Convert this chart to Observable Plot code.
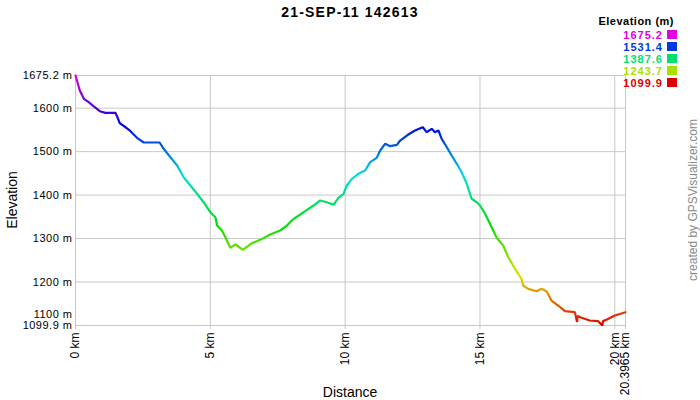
<!DOCTYPE html>
<html><head><meta charset="utf-8">
<script src="https://cdn.jsdelivr.net/npm/d3@7"></script>
<script src="https://cdn.jsdelivr.net/npm/@observablehq/plot@0.6"></script>
<style>
body{margin:0;background:#fff;}
svg{font-family:"Liberation Sans",Arial,sans-serif;}
</style>
</head><body><div id="chart"></div>
<script>
const chartTitle = "21-SEP-11 142613";
const distanceKm = [0,0.16,0.31,0.49,0.68,0.9,1.11,1.48,1.55,1.64,1.85,2.04,2.28,2.53,3.12,3.27,3.52,3.77,4.01,4.26,4.51,4.75,5.0,5.19,5.25,5.43,5.56,5.74,5.93,6.21,6.54,6.85,7.22,7.59,7.84,8.09,8.46,8.83,9.07,9.32,9.57,9.75,9.94,10.06,10.25,10.49,10.74,10.93,11.17,11.3,11.48,11.67,11.92,12.04,12.34,12.59,12.88,13.02,13.21,13.33,13.46,13.58,13.77,13.95,14.14,14.32,14.51,14.69,14.88,15.0,15.19,15.37,15.62,15.86,16.05,16.3,16.54,16.6,16.79,17.1,17.28,17.47,17.65,17.9,18.15,18.52,18.6,18.62,18.77,19.07,19.38,19.54,19.56,19.69,20.0,20.3965];
const elevationM = [1675.2,1640.7,1621.5,1613.8,1603.9,1593,1589.3,1589.3,1580,1565.5,1556.2,1547,1531.8,1521,1521,1506.5,1487.2,1468.1,1441.2,1422.1,1403,1383.6,1360.6,1349.1,1330,1318.5,1303,1278.7,1286.3,1274,1289.3,1297,1309.3,1318.5,1330,1345.4,1360.6,1376,1387.6,1383.6,1377.7,1393.8,1403,1422.1,1437.4,1449,1456.6,1475.7,1485.8,1502.6,1518,1512.5,1515.7,1525.6,1539.4,1548.6,1556.2,1544.7,1552.5,1544.7,1548.6,1529.5,1510.2,1491.1,1472,1452.7,1426,1391.5,1383.6,1376,1357,1334,1301.7,1284,1257.1,1230.4,1207.3,1191.9,1184.3,1178.8,1184.3,1178.8,1157.4,1145.9,1132.8,1130.5,1108,1122,1117.6,1111.4,1109.8,1099.9,1110,1113,1122.9,1130.5];
const yTicks = [1675.2,1600,1500,1400,1300,1200];
const yTicksLow = [1100];
const yTicksMin = [1099.9];
const xTicks = [0,5,10,15,20,20.3965];
const legendTitle = "Elevation (m)";
const legendValues = [1675.2,1531.4,1387.6,1243.7,1099.9];
const xLabel = "Distance";
const yLabel = "Elevation";
const credit = "created by GPSVisualizer.com";

const minE = 1099.9, maxE = 1675.2;
const hueColor = t => d3.hsl(300 * t, 1, 0.44).formatHex();
const colorOf = v => hueColor((v - minE) / (maxE - minE));
const points = distanceKm.map((d, i) => ({d, e: elevationM[i]}));
const gridColor = "#c8c8c8";

const gradientDefs = (index, scales) => {
  const defs = d3.create("svg:defs");
  const lg = defs.append("linearGradient")
    .attr("id", "elevGrad")
    .attr("gradientUnits", "userSpaceOnUse")
    .attr("x1", 0).attr("x2", 0)
    .attr("y1", scales.y(maxE)).attr("y2", scales.y(minE));
  d3.range(0, 1.0001, 0.05).forEach(t => {
    lg.append("stop").attr("offset", t).attr("stop-color", hueColor(1 - t));
  });
  return defs.node();
};

const yAxisOpts = {tickSize: 0, tickPadding: 3, tickFormat: d => d + " m", fontSize: 11, label: null};

const plot = Plot.plot({
  width: 700, height: 400,
  marginLeft: 75, marginRight: 75, marginTop: 75, marginBottom: 75,
  style: {fontFamily: "Liberation Sans, Arial, sans-serif", fontSize: "12px", background: "#fff", color: "#000"},
  x: {domain: [0, 20.3965], label: null},
  y: {domain: [minE, maxE], label: null},
  marks: [
    gradientDefs,
    Plot.gridY([...yTicks, ...yTicksLow], {stroke: gridColor, strokeOpacity: 1}),
    Plot.gridX(xTicks, {stroke: gridColor, strokeOpacity: 1}),
    Plot.frame({stroke: gridColor}),
    Plot.axisX(xTicks, {tickSize: 4, stroke: gridColor, tickFormat: () => "", label: null}),
    Plot.text(xTicks, {x: d => d, frameAnchor: "bottom", dy: 7, rotate: -90, textAnchor: "end", lineAnchor: "middle", text: d => d + " km", fontSize: 12, fill: "#000"}),
    Plot.axisY(yTicks, {...yAxisOpts}),
    Plot.axisY(yTicksLow, {...yAxisOpts, dy: -11}),
    Plot.axisY(yTicksMin, {...yAxisOpts, dy: 0}),
    Plot.line(points, {x: "d", y: "e", stroke: "url(#elevGrad)", strokeWidth: 2.2, strokeLinejoin: "miter"})
  ]
});

const svg = d3.select(plot);
svg.selectAll("g[aria-label='y-axis tick label'] text").attr("letter-spacing", "0.5px");
svg.append("text").attr("x", 350).attr("y", 17).attr("text-anchor", "middle")
  .attr("font-size", 14).attr("font-weight", "bold").attr("letter-spacing", "1.2px").text(chartTitle);
svg.append("text").attr("x", 350).attr("y", 397).attr("text-anchor", "middle")
  .attr("font-size", 14).text(xLabel);
svg.append("text").attr("transform", "translate(17,200) rotate(-90)").attr("text-anchor", "middle")
  .attr("font-size", 14).text(yLabel);
svg.append("text").attr("transform", "translate(697,200) rotate(-90)").attr("text-anchor", "middle")
  .attr("font-size", 12).attr("fill", "#888").text(credit);
svg.append("text").attr("x", 674).attr("y", 25).attr("text-anchor", "end")
  .attr("font-size", 11).attr("font-weight", "bold").attr("letter-spacing", "0.5px").text(legendTitle);
legendValues.forEach((v, i) => {
  const y = 38.5 + i * 12;
  svg.append("text").attr("x", 663).attr("y", y).attr("text-anchor", "end")
    .attr("font-size", 11).attr("font-weight", "bold").attr("letter-spacing", "1px")
    .attr("fill", colorOf(v)).text(v.toFixed(1));
  svg.append("rect").attr("x", 667).attr("y", y - 8.5).attr("width", 10).attr("height", 9)
    .attr("fill", colorOf(v));
});

document.getElementById("chart").appendChild(plot);
</script>
</body></html>
